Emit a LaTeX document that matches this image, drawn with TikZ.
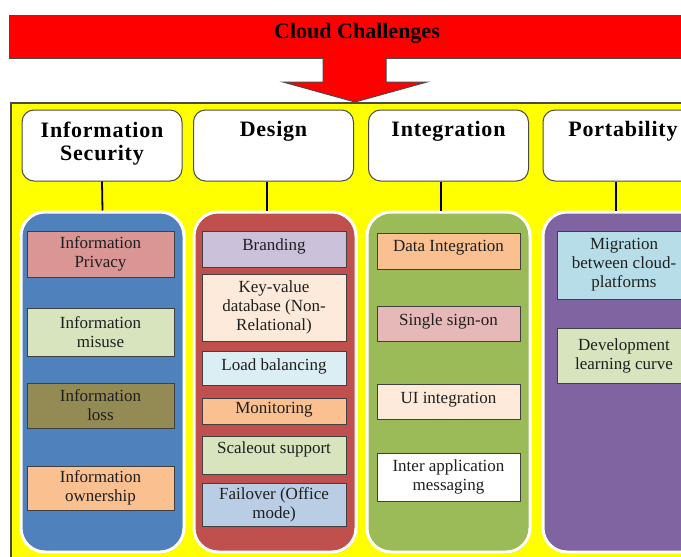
\documentclass[tikz,border=0pt]{standalone}
\usepackage{fontspec}
\setmainfont{Liberation Serif}
\usetikzlibrary{shadows}

\definecolor{bannerred}{HTML}{FF0000}
\definecolor{bgyellow}{HTML}{FFFF00}
\definecolor{colblue}{HTML}{4F81BD}
\definecolor{colred}{HTML}{C0504D}
\definecolor{colgreen}{HTML}{9BBB59}
\definecolor{colpurple}{HTML}{8064A2}
\definecolor{fpink}{HTML}{D99694}
\definecolor{fsage}{HTML}{D7E4BD}
\definecolor{folive}{HTML}{948A54}
\definecolor{fpeach}{HTML}{FAC090}
\definecolor{flilac}{HTML}{CCC1DA}
\definecolor{fcream}{HTML}{FDEADA}
\definecolor{fice}{HTML}{DBEEF4}
\definecolor{fsteel}{HTML}{B9CDE5}
\definecolor{frose}{HTML}{E6B9B8}
\definecolor{fsky}{HTML}{B7DEE8}
\definecolor{edgegray}{HTML}{4A4A4A}

\begin{document}
\begin{tikzpicture}[x=1pt,y=-1pt,
  titletext/.style={font=\fontsize{22}{24}\selectfont\bfseries},
  header/.style={draw=edgegray, line width=1pt, fill=white, rounded corners=12pt,
    minimum width=160pt, minimum height=71pt, inner sep=0pt},
  hdrtext/.style={font=\fontsize{22}{23}\selectfont\bfseries\addfontfeature{LetterSpace=3.5},
    align=center, inner sep=0pt, anchor=north},
  panel/.style={draw=white, line width=3pt, rounded corners=24pt,
    minimum height=340pt, inner sep=0pt,
    drop shadow={shadow xshift=1pt, shadow yshift=-1.5pt, opacity=0.35}},
  item/.style={draw=black!75, line width=0.8pt, inner sep=0pt,
    font=\fontsize{17}{19}\selectfont, text=black!88, align=center},
  itemtext/.style={font=\fontsize{17}{19}\selectfont, text=black!88,
    align=center, inner sep=0pt},
  link/.style={draw=black, line width=1.8pt}
]
\useasboundingbox (0,0) rectangle (681,557);
\fill[white] (0,0) rectangle (681,557);

% yellow backdrop
\draw[fill=bgyellow, draw=edgegray, line width=1.2pt] (11,103) rectangle (700,570);

% title banner
\node[draw=edgegray, line width=1pt, fill=bannerred, minimum width=700pt,
      minimum height=43pt, anchor=north west, inner sep=0pt] (banner) at (9,15) {};
\node[titletext] (title) at (357,33) {Cloud Challenges};

% downward arrow under the banner
\fill[bannerred] (323,57) -- (323,82) -- (283,82) -- (355,102) -- (427,82)
  -- (386,82) -- (386,57) -- cycle;
\draw[edgegray, line width=1pt, line join=miter]
  (323,58.5) -- (323,82) -- (283,82) -- (355,102) -- (427,82) -- (386,82) -- (386,58.5);

% category headers
\node[header] (hdr1) at (102,145.5) {};
\node[header] (hdr2) at (273.5,145.5) {};
\node[header] (hdr3) at (448.5,145.5) {};
\node[header] (hdr4) at (623,145.5) {};
\node[hdrtext] (hdr1t) at ([yshift=-12pt]hdr1.north) {Information\\Security};
\node[hdrtext] (hdr2t) at ([yshift=-12pt]hdr2.north) {Design};
\node[hdrtext] (hdr3t) at ([yshift=-12pt]hdr3.north) {Integration};
\node[hdrtext] (hdr4t) at ([yshift=-12pt]hdr4.north) {Portability};

% column panels
\node[panel, fill=colblue, minimum width=163pt] (col1) at (102.5,382) {};
\node[panel, fill=colred, minimum width=162pt] (col2) at (275,382) {};
\node[panel, fill=colgreen, minimum width=163pt] (col3) at (448.5,382) {};
\node[panel, fill=colpurple, minimum width=163pt] (col4) at (624.5,382) {};

% header-to-panel links
\draw[link] (hdr1.south) -- (col1.north);
\draw[link] ([xshift=-6.5pt]hdr2.south) -- ([xshift=-8pt]col2.north);
\draw[link] ([xshift=-7.5pt]hdr3.south) -- ([xshift=-7.5pt]col3.north);
\draw[link] ([xshift=-7pt]hdr4.south) -- ([xshift=-8.5pt]col4.north);

% Information Security items
\node[item, fill=fpink, minimum width=147pt, minimum height=46pt] (s1) at (100.5,254) {Information\\Privacy};
\node[item, fill=fsage, minimum width=147pt, minimum height=48pt] (s2) at (100.5,332) {Information\\misuse};
\node[item, fill=folive, minimum width=147pt, minimum height=45pt] (s3) at (100.5,405.5) {Information\\loss};
\node[item, fill=fpeach, minimum width=147pt, minimum height=44pt] (s4) at (100.5,488) {Information\\ownership};

% Design items
\node[item, fill=flilac, minimum width=144pt, minimum height=36pt] (d1) at (274,249) {};
\node[itemtext] (d1t) at ([yshift=3pt]d1.center) {Branding};
\node[item, fill=fcream, minimum width=144pt, minimum height=67pt] (d2) at (274,307.5) {Key-value\\database (Non-\\Relational)};
\node[item, fill=fice, minimum width=144pt, minimum height=34pt] (d3) at (274,368) {};
\node[itemtext] (d3t) at ([yshift=2pt]d3.center) {Load balancing};
\node[item, fill=fpeach, minimum width=144pt, minimum height=26pt] (d4) at (274,411) {};
\node[itemtext] (d4t) at ([yshift=1pt]d4.center) {Monitoring};
\node[item, fill=fsage, minimum width=144pt, minimum height=38pt] (d5) at (274,455) {};
\node[itemtext] (d5t) at ([yshift=6pt]d5.center) {Scaleout support};
\node[item, fill=fsteel, minimum width=144pt, minimum height=43pt] (d6) at (274,504.5) {Failover (Office\\mode)};

% Integration items
\node[item, fill=fpeach, minimum width=143pt, minimum height=36pt] (g1) at (448.5,251) {};
\node[itemtext] (g1t) at ([yshift=3pt]g1.center) {Data Integration};
\node[item, fill=frose, minimum width=143pt, minimum height=35pt] (g2) at (448.5,323.5) {};
\node[itemtext] (g2t) at ([yshift=2pt]g2.center) {Single sign-on};
\node[item, fill=fcream, minimum width=143pt, minimum height=35pt] (g3) at (448.5,401.5) {};
\node[itemtext] (g3t) at ([yshift=2pt]g3.center) {UI integration};
\node[item, fill=white, minimum width=143pt, minimum height=48pt] (g4) at (448.5,477) {Inter application\\messaging};

% Portability items
\node[item, fill=fsky, minimum width=134pt, minimum height=68pt] (p1) at (624,265) {Migration\\between cloud-\\platforms};
\node[item, fill=fsage, minimum width=134pt, minimum height=55pt] (p2) at (624,355.5) {Development\\learning curve};
\end{tikzpicture}
\end{document}
